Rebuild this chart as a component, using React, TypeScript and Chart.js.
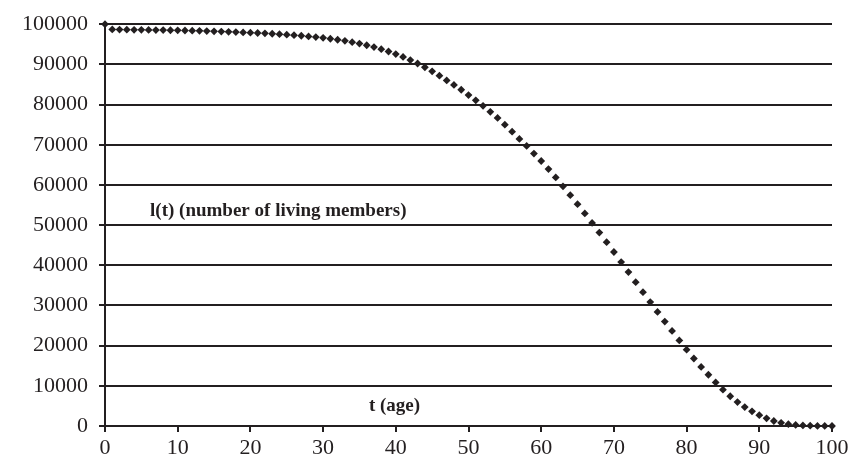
import React, { useEffect, useRef } from "react";
import { Chart, registerables } from "chart.js";

Chart.register(...registerables);

const ages: number[] = Array.from({ length: 101 }, (_, i) => i);

const livingMembers: number[] = [
  100000, 98700, 98660, 98630, 98610, 98590, 98570, 98550, 98530, 98500,
  98470, 98430, 98390, 98340, 98290, 98230, 98170, 98100, 98030, 97960,
  97890, 97810, 97720, 97620, 97510, 97390, 97260, 97120, 96960, 96790,
  96600, 96380, 96130, 95850, 95530, 95170, 94760, 94300, 93780, 93200,
  92560, 91850, 91070, 90220, 89290, 88280, 87180, 86000, 84880, 83680,
  82360, 81060, 79680, 78200, 76680, 75000, 73250, 71450, 69700, 67800,
  65950, 63950, 61870, 59650, 57450, 55200, 52900, 50550, 48150, 45750,
  43300, 40800, 38300, 35800, 33300, 30850, 28400, 26000, 23650, 21300,
  19000, 16800, 14700, 12750, 10850, 9050, 7400, 5950, 4700, 3650,
  2700, 1900, 1250, 780, 460, 260, 140, 70, 30, 10,
  0,
];

const axisLabels = [
  { text: "l(t) (number of living members)", t: 6.2, v: 53500 },
  { text: "t (age)", t: 36.3, v: 5000 },
];

const INK = "#231f20";
const SERIF = '"Liberation Serif", "Times New Roman", serif';

const labelPlugin = {
  id: "axisTextLabels",
  afterDatasetsDraw(chart: any) {
    const { ctx, scales } = chart;
    ctx.save();
    ctx.font = `bold 19px ${SERIF}`;
    ctx.fillStyle = INK;
    ctx.textBaseline = "middle";
    ctx.textAlign = "left";
    axisLabels.forEach((a) => {
      ctx.fillText(a.text, scales.x.getPixelForValue(a.t), scales.y.getPixelForValue(a.v));
    });
    ctx.restore();
  },
};

export default function App() {
  const ref = useRef<HTMLCanvasElement>(null);

  useEffect(() => {
    document.body.style.margin = "0";
    if (!ref.current) return;
    const chart = new Chart(ref.current, {
      type: "line",
      data: {
        datasets: [
          {
            data: ages.map((a, i) => ({ x: a, y: livingMembers[i] })),
            showLine: false,
            pointStyle: "rectRot",
            pointRadius: 3.9,
            pointBackgroundColor: INK,
            pointBorderColor: INK,
            pointBorderWidth: 0,
            clip: false,
          } as any,
        ],
      },
      options: {
        animation: false,
        responsive: false,
        events: [],
        layout: { padding: { top: 18, right: 33, bottom: 0, left: 0 } },
        plugins: { legend: { display: false }, tooltip: { enabled: false } },
        scales: {
          x: {
            type: "linear",
            min: 0,
            max: 100,
            afterFit: (s: any) => {
              s.height = 33;
            },
            ticks: {
              stepSize: 10,
              color: INK,
              padding: 3,
              maxRotation: 0,
              font: { family: SERIF, size: 22 },
            },
            grid: {
              drawOnChartArea: false,
              drawTicks: true,
              tickLength: 6,
              color: INK,
              lineWidth: 2,
            },
            border: { display: true, color: INK, width: 2 },
          },
          y: {
            type: "linear",
            min: 0,
            max: 100000,
            afterFit: (s: any) => {
              s.width = 105;
            },
            ticks: {
              stepSize: 10000,
              color: INK,
              padding: 11,
              callback: (v: any) => String(v),
              font: { family: SERIF, size: 22 },
            },
            grid: {
              drawOnChartArea: true,
              drawTicks: true,
              tickLength: 6,
              color: INK,
              lineWidth: 2,
            },
            border: { display: true, color: INK, width: 2 },
          },
        },
      },
      plugins: [labelPlugin],
    });
    return () => chart.destroy();
  }, []);

  return (
    <div style={{ position: "absolute", left: 0, top: 0, width: 865, height: 459 }}>
      <canvas ref={ref} width={865} height={459} />
    </div>
  );
}
